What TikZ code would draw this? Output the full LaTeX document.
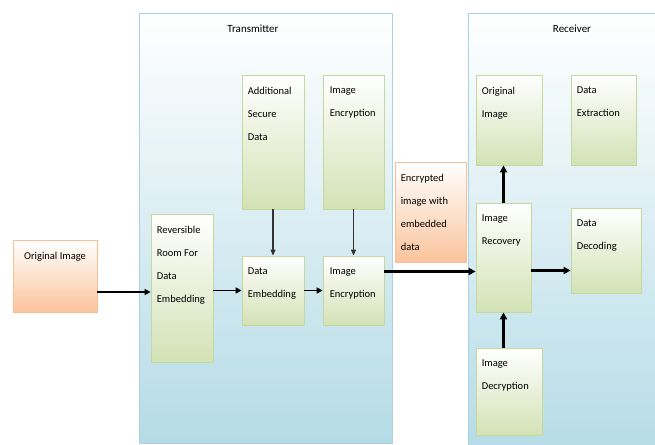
\documentclass[tikz,border=0pt]{standalone}
\usepackage{fontspec}
\setmainfont{Carlito}
\usetikzlibrary{arrows.meta,calc,positioning,shadows}
\definecolor{grnfill}{HTML}{D3E2B5}
\definecolor{grnline}{HTML}{C5D89E}
\definecolor{orgfill}{HTML}{FAC49C}
\definecolor{orgline}{HTML}{F8BE94}
\definecolor{bluefill}{HTML}{B4DBE6}
\definecolor{blueline}{HTML}{A9D3DF}

\begin{document}
\begin{tikzpicture}[
    x=1pt,y=-1pt,
    zone/.style={rectangle,draw=blueline,line width=.8pt,top color=white,bottom color=bluefill,inner sep=0pt},
    blk/.style={rectangle,draw=grnline,line width=.8pt,top color=white,bottom color=grnfill,inner sep=0pt,
      drop shadow={shadow xshift=.8pt,shadow yshift=-1.2pt,opacity=.45,fill=black!60}},
    oblk/.style={blk,draw=orgline,bottom color=orgfill},
    lbl/.style={font=\fontsize{10.5}{23}\selectfont,align=left,inner sep=0pt,anchor=north west,xshift=6pt,yshift=-12pt},
    ttl/.style={font=\fontsize{11}{13}\selectfont,inner sep=0pt},
    e/.style={-{Triangle[length=6pt,width=5pt]},line width=1.2pt,black!80},
    eb/.style={-{Triangle[length=6pt,width=6pt]},line width=1.8pt,black},
    ebb/.style={-{Triangle[length=7pt,width=7pt]},line width=2.6pt,black}
  ]
    \clip (0,0) rectangle (655,444);
    % the two sides
    \node[zone,minimum width=253pt,minimum height=430pt] (tx) at (265.5,228) {};
    \node[zone,minimum width=202pt,minimum height=447pt] (rx) at (569,236.5) {};
    \node[ttl] (txname) at (253,29) {Transmitter};
    \node[ttl] (rxname) at (572,29) {Receiver};

    % transmitter side
    \node[oblk,minimum width=84pt,minimum height=72pt,
      label={[lbl,anchor=north,xshift=-6pt]north:Original Image}] (orig) at (55,276) {};
    \node[blk,minimum width=62pt,minimum height=148pt,
      label={[lbl]north west:Reversible\\Room For\\Data\\Embedding}] (room) at (182,288) {};
    \node[blk,minimum width=62pt,minimum height=134pt,
      label={[lbl]north west:Additional\\Secure\\Data}] (secure) at (273,142) {};
    \node[blk,minimum width=61pt,minimum height=134pt,
      label={[lbl,xshift=1pt]north west:Image\\Encryption}] (encA) at (353.5,142) {};
    \node[blk,minimum width=62pt,minimum height=69pt,
      label={[lbl]north west:Data\\Embedding}] (embed) at (273,290.5) {};
    \node[blk,minimum width=61pt,minimum height=69pt,
      label={[lbl,xshift=1pt]north west:Image\\Encryption}] (encB) at (353.5,290.5) {};
    \node[oblk,minimum width=71pt,minimum height=100pt,
      label={[lbl]north west:Encrypted\\image with\\embedded\\data}] (cipher) at (430.5,212) {};

    % receiver side
    \node[blk,minimum width=66pt,minimum height=90pt,
      label={[lbl]north west:Original\\Image}] (origR) at (509,120) {};
    \node[blk,minimum width=65pt,minimum height=90pt,
      label={[lbl]north west:Data\\Extraction}] (extract) at (603.5,120) {};
    \node[blk,minimum width=55pt,minimum height=109pt,
      label={[lbl]north west:Image\\Recovery}] (recover) at (503.5,257.5) {};
    \node[blk,minimum width=70pt,minimum height=85pt,
      label={[lbl]north west:Data\\Decoding}] (decode) at (606,250.5) {};
    \node[blk,minimum width=66pt,minimum height=87pt,
      label={[lbl]north west:Image\\Decryption}] (decrypt) at (509,391.5) {};

    \draw[eb] ([yshift=-16pt]orig.east) -- ([yshift=-16pt]orig.east -| room.west);
    \draw[eb] (embed.west -| room.east) -- (embed.west);
    \draw[eb] (embed) -- (encB);
    \draw[e] (secure) -- (embed);
    \draw[e] (encA.south -| encB.north) -- (encB);
    \draw[ebb] ([yshift=19pt]encB.east) -- ([yshift=19pt]encB.east -| recover.west);
    \draw[ebb] (recover.north) -- (recover.north |- origR.south);
    \draw[ebb] ([yshift=-13pt]recover.east) -- ([yshift=-13pt]recover.east -| decode.west);
    \draw[ebb] (recover.south |- decrypt.north) -- (recover.south);
  \end{tikzpicture}
\end{document}
